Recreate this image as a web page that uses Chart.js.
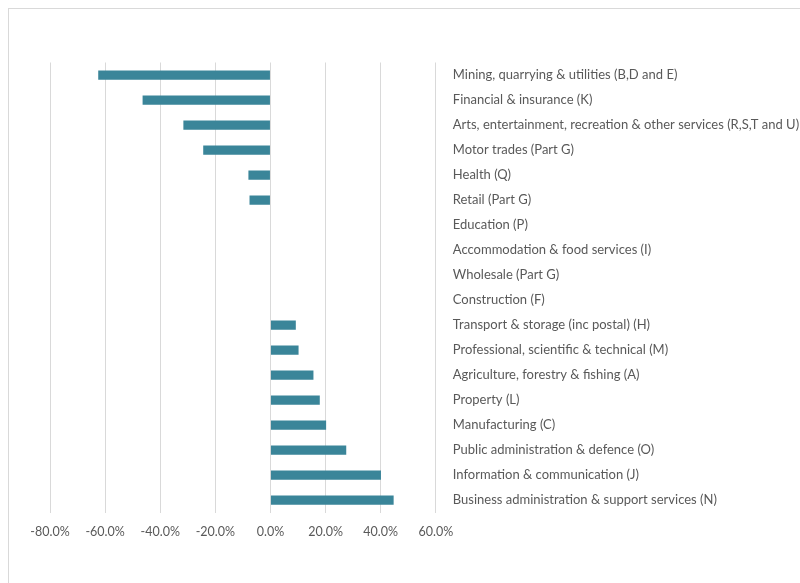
<!DOCTYPE html>
<html>
<head>
<meta charset="utf-8">
<script src="https://cdn.jsdelivr.net/npm/chart.js@4.4.1/dist/chart.umd.min.js"></script>
<style>
  html, body { margin: 0; padding: 0; background: #fff; overflow: hidden; }
  #wrap { position: relative; width: 800px; height: 583px; }
  #frame { position: absolute; left: 8px; top: 8px; width: 820px; height: 600px;
           border-left: 1px solid #d9d9d9; border-top: 1px solid #d9d9d9; }
</style>
</head>
<body>
<div id="wrap">
  <div id="frame"></div>
  <canvas id="sectorBars" width="800" height="583"></canvas>
</div>
<script>
var sectorLabels = [
    "Mining, quarrying & utilities (B,D and E)",
    "Financial & insurance (K)",
    "Arts, entertainment, recreation & other services (R,S,T and U)",
    "Motor trades (Part G)",
    "Health (Q)",
    "Retail (Part G)",
    "Education (P)",
    "Accommodation & food services (I)",
    "Wholesale (Part G)",
    "Construction (F)",
    "Transport & storage (inc postal) (H)",
    "Professional, scientific & technical (M)",
    "Agriculture, forestry & fishing (A)",
    "Property (L)",
    "Manufacturing (C)",
    "Public administration & defence (O)",
    "Information & communication (J)",
    "Business administration & support services (N)"
];
var sectorChange = [
    -62.5, -46.4, -31.6, -24.4, -8.0, -7.6,
    0, 0, 0, 0,
    9.2, 10.2, 15.6, 17.9, 20.2, 27.5, 40.1, 44.7
];
var xMin = -80;
var xMax = 60;
var xStep = 20;

var textGrey = '#595959';
var gridGrey = '#d9d9d9';

var sectorCanvas = document.getElementById("sectorBars");
var sectorConfig = {
    type: 'bar',
    data: {
        labels: sectorLabels,
        datasets: [{
            data: sectorChange,
            backgroundColor: '#3a8599',
            borderWidth: 0,
            categoryPercentage: 1,
            barPercentage: 0.37
        }]
    },
    options: {
        indexAxis: 'y',
        responsive: false,
        animation: false,
        layout: {
            padding: { left: 50, top: 62.5, right: 0, bottom: 0 }
        },
        plugins: {
            legend: { display: false },
            tooltip: { enabled: false }
        },
        scales: {
            x: {
                min: xMin,
                max: xMax,
                border: { display: false },
                grid: { color: gridGrey, lineWidth: 1, drawTicks: false },
                ticks: {
                    stepSize: xStep,
                    padding: 12,
                    color: textGrey,
                    font: { family: 'Lato', size: 12.5 },
                    callback: function (v) { return v.toFixed(1) + '%'; }
                },
                afterFit: function (scale) { scale.height = 70.5; }
            },
            y: {
                position: 'right',
                border: { display: false },
                grid: { display: false, drawTicks: false },
                ticks: {
                    autoSkip: false,
                    padding: 17,
                    color: textGrey,
                    font: { family: 'Lato', size: 13 }
                },
                afterFit: function (scale) { scale.width = 364.2; }
            }
        }
    }
};
var sectorChartObj = new Chart(sectorCanvas, sectorConfig);
</script>
</body>
</html>
